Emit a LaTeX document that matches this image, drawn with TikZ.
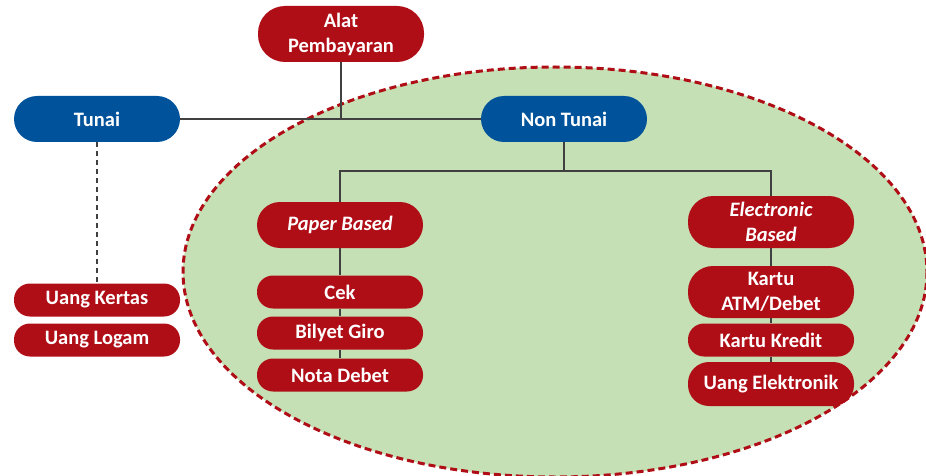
\documentclass[tikz,border=0pt]{standalone}
\usepackage{fontspec}
\setmainfont{Carlito}
\usepackage{tikz}

\definecolor{pillred}{HTML}{B00E17}
\definecolor{pillblue}{HTML}{00529A}
\definecolor{areagreen}{HTML}{C5E0B4}
\definecolor{linegray}{HTML}{404040}

\begin{document}
\begin{tikzpicture}[x=1pt,y=-1pt,
	pill/.style={shape=rectangle,fill=pillred,text=white,minimum width=166pt,minimum height=33pt,rounded corners=16pt,inner sep=2pt,align=center,font=\fontsize{20.5}{25}\selectfont\bfseries},
	bluepill/.style={pill,fill=pillblue,minimum height=46pt,rounded corners=23pt},
	tallpill/.style={pill,minimum height=52pt,rounded corners=25pt},
	link/.style={draw=linegray,line width=1.6pt}]
	\useasboundingbox (0,0) rectangle (926,476);

	\draw[fill=areagreen,draw=pillred,line width=3pt,dash pattern=on 7pt off 4pt] (555,272) ellipse [x radius=372, y radius=205];

	\node[pill,minimum height=56pt,rounded corners=27pt] (alat) at (341, 34) {Alat\\Pembayaran};
	\node[bluepill] (tunai)    at (97, 119)  {Tunai};
	\node[bluepill] (nontunai) at (564, 119) {Non Tunai};
	\node[pill,minimum height=46pt,rounded corners=23pt] (paper) at (340, 225) {\itshape Paper Based};
	\node[tallpill] (elec)     at (771, 222) {\itshape Electronic\\\itshape Based};
	\node[pill] (cek)          at (340, 292) {Cek};
	\node[pill] (giro)         at (340, 333) {Bilyet Giro};
	\node[pill] (nota)         at (340, 375) {Nota Debet};
	\node[pill] (kertas)       at (97, 300)  {Uang Kertas};
	\node[pill] (logam)        at (97, 340)  {Uang Logam};
	\node[tallpill] (atm)      at (771, 292) {Kartu\\ATM/Debet};
	\node[pill] (kredit)       at (771, 340) {Kartu Kredit};
	\node[pill,minimum height=44pt,rounded corners=21pt] (uangel) at (771, 384) {Uang Elektronik};
	\coordinate (bus) at (564, 171);

	\path[link] (alat) -- (alat |- tunai);
	\path[link] (tunai) -- (nontunai);
	\path[link] (nontunai) -- (bus);
	\path[link] (paper) |- (bus) -| (elec);
	\path[link] (paper) -- (cek);
	\path[link] (cek) -- (giro);
	\path[link] (giro) -- (nota);
	\path[link] (elec) -- (atm);
	\path[link] (atm) -- (kredit);
	\path[link] (kredit) -- (uangel);
	\path[link,dash pattern=on 5pt off 4pt] (tunai) -- (kertas);

\end{tikzpicture}
\end{document}
